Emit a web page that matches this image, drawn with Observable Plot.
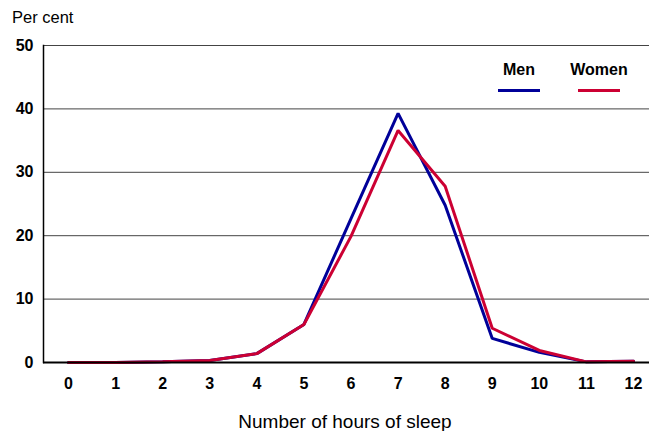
<!DOCTYPE html>
<html>
<head>
<meta charset="utf-8">
<script src="https://cdn.jsdelivr.net/npm/d3@7"></script>
<script src="https://cdn.jsdelivr.net/npm/@observablehq/plot@0.6"></script>
<style>
  html, body { margin: 0; padding: 0; background: #fff; }
  #wrap { position: relative; width: 649px; height: 431px; font-family: "Liberation Sans", Arial, sans-serif; }
  #unit { position: absolute; left: 12px; top: 8px; font-size: 16.5px; color: #000; }
  .lg { position: absolute; top: 61px; width: 60px; text-align: center; font-weight: bold; font-size: 16px; color: #000; }
  .lg .sw { display: block; width: 42px; height: 3px; margin: 10px auto 0; }
  #xlabel { position: absolute; left: 0; width: 690px; top: 411px; text-align: center; font-size: 19px; color: #000; }
</style>
</head>
<body>
<div id="wrap">
  <div id="chart"></div>
  <div id="unit">Per cent</div>
  <div id="legend"></div>
  <div id="xlabel">Number of hours of sleep</div>
</div>
<script>
const hours = [0, 1, 2, 3, 4, 5, 6, 7, 8, 9, 10, 11, 12];
const men   = [0, 0, 0.1, 0.3, 1.4, 6.0, 22.7, 39.3, 24.8, 3.8, 1.6, 0.1, 0.2];
const women = [0, 0, 0.1, 0.3, 1.4, 6.0, 19.9, 36.6, 27.8, 5.4, 1.9, 0.1, 0.2];
const seriesNames = ["Men", "Women"];
const seriesColors = ["#000099", "#cc0033"];
const yTicks = [0, 10, 20, 30, 40, 50];

const rows = [];
hours.forEach((h, i) => rows.push({hours: h, value: men[i], series: "Men"}));
hours.forEach((h, i) => rows.push({hours: h, value: women[i], series: "Women"}));

const chart = Plot.plot({
  width: 649,
  height: 431,
  marginLeft: 43,
  marginRight: 0,
  marginTop: 45,
  marginBottom: 69,
  insetLeft: 25,
  insetRight: 16,
  style: {fontFamily: "'Liberation Sans', Arial, sans-serif", fontSize: "16px", background: "#fff", color: "#000"},
  x: {domain: [0, 12], ticks: hours, tickFormat: d => String(d), label: null},
  y: {domain: [0, 50], ticks: yTicks, label: null},
  color: {domain: seriesNames, range: seriesColors},
  marks: [
    Plot.ruleY(yTicks.filter(d => d > 0), {stroke: "#444", strokeWidth: 1}),
    Plot.axisX({ticks: hours, tickSize: 0, tickPadding: 15, fontWeight: "bold", fontSize: 16, label: null, tickFormat: d => String(d)}),
    Plot.axisY({ticks: yTicks, tickSize: 0, tickPadding: 10, fontWeight: "bold", fontSize: 16, label: null}),
    Plot.frame({anchor: "left", stroke: "#000", strokeWidth: 1.5}),
    Plot.line(rows, {x: "hours", y: "value", z: "series", stroke: "series", strokeWidth: 3, strokeLinejoin: "miter"}),
    Plot.ruleY([0], {stroke: "#000", strokeWidth: 2})
  ]
});
document.getElementById("chart").appendChild(chart);

// Legend (HTML, built from the series arrays)
const legendCenters = [519, 599];
const legend = document.getElementById("legend");
seriesNames.forEach((name, i) => {
  const d = document.createElement("div");
  d.className = "lg";
  d.style.left = (legendCenters[i] - 30) + "px";
  d.textContent = name;
  const sw = document.createElement("span");
  sw.className = "sw";
  sw.style.background = seriesColors[i];
  d.appendChild(sw);
  legend.appendChild(d);
});
</script>
</body>
</html>
